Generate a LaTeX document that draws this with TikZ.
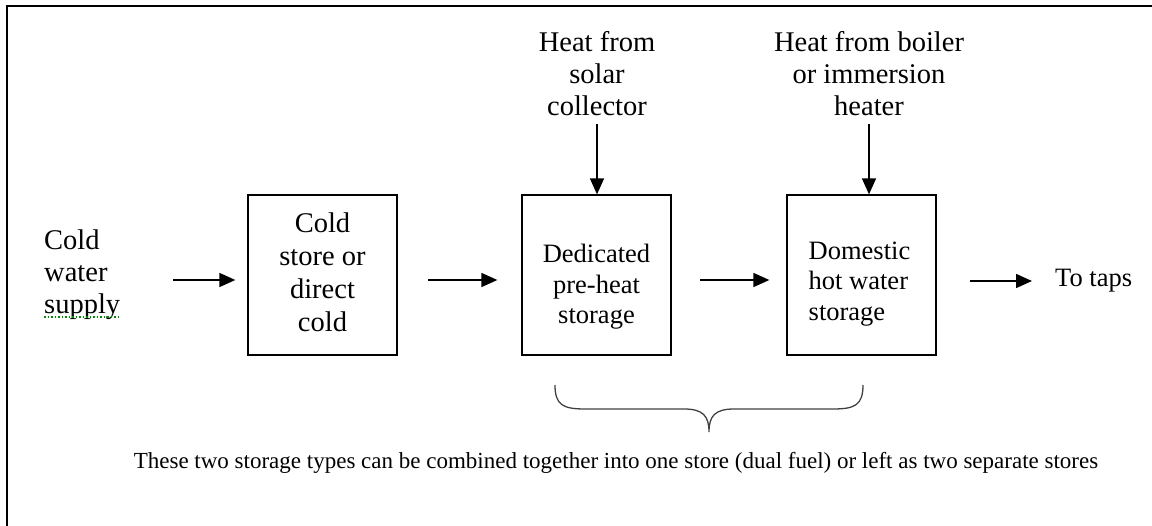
\documentclass[tikz,border=0pt]{standalone}
\usepackage{fontspec}
\setmainfont{Liberation Serif}
\usetikzlibrary{arrows.meta}
\tikzset{
  arr/.style={line width=1.6pt, -{Triangle[length=16pt,width=14pt]}},
  boxnode/.style={draw, line width=1.3pt, minimum width=149pt, minimum height=160pt, inner sep=0pt},
  bigtxt/.style={inner sep=0pt, align=center, font=\fontsize{28.5}{32}\selectfont},
  midtxt/.style={inner sep=0pt, align=center, font=\fontsize{26.5}{30.5}\selectfont},
  captxt/.style={inner sep=0pt, font=\fontsize{23}{27}\selectfont},
  frameline/.style={line width=1.6pt},
  bracestyle/.style={line width=1.3pt, draw=black!75},
  spell/.style={draw=green!55!black, dotted, line width=1.5pt}
}
\begin{document}
\begin{tikzpicture}[x=1pt,y=-1pt]
\useasboundingbox (0,0) rectangle (1152,526);
% outer frame (open at right and bottom)
\draw[frameline] (7,526) -- (7,6) -- (1152,6);

% left label
\node[bigtxt, align=left, anchor=west] (cws) at (44,275) {Cold\\water\\supply};
\draw[spell] ([yshift=3pt]cws.south west) -- ([yshift=3pt]cws.south east);

% boxes
\node[boxnode] (b1) at (322.5,275) {};
\node[bigtxt, font=\fontsize{28.5}{33}\selectfont] (b1t) at (322.5,272) {Cold\\store or\\direct\\cold};
\node[boxnode] (b2) at (596.5,275) {};
\node[midtxt] (b2t) at (596.5,287) {Dedicated\\pre-heat\\storage};
\node[boxnode] (b3) at (861.5,275) {};
\node[midtxt, align=left] (b3t) at (859.5,284) {Domestic\\hot water\\storage};

% top labels
\node[bigtxt] (h1) at (597,74) {Heat from\\solar\\collector};
\node[bigtxt] (h2) at (869,74) {Heat from boiler\\or immersion\\heater};

% to taps
\node[midtxt, anchor=west] (taps) at (1055,281) {To taps};

% horizontal arrow tails
\coordinate (t1) at (173,280);
\coordinate (t2) at (428,280);
\coordinate (t3) at (700,280);
\coordinate (t4) at (970,281);
\draw[arr, shorten >=12pt] (t1) -- (t1 -| b1.west);
\draw[arr, shorten >=24pt] (t2) -- (t2 -| b2.west);
\draw[arr, shorten >=17pt] (t3) -- (t3 -| b3.west);
\draw[arr, shorten >=23pt] (t4) -- (t4 -| taps.west);

% vertical arrows
\draw[arr, shorten <=8pt] (h1.south) -- (h1.south |- b2.north);
\draw[arr, shorten <=8pt] (h2.south) -- (h2.south |- b3.north);

% brace
\coordinate (bl) at (555,385);
\coordinate (br) at (863,385);
\coordinate (btip) at (709,432);
\draw[bracestyle] (bl) .. controls (555,405) and (563,409) .. (585,409)
  -- (684,409) .. controls (703,409) and (709,416) .. (btip)
  .. controls (709,416) and (715,409) .. (734,409)
  -- (833,409) .. controls (855,409) and (863,405) .. (br);

% caption
\node[captxt] (cap) at (616,463) {These two storage types can be combined together into one store (dual fuel) or left as two separate stores};
\end{tikzpicture}
\end{document}
